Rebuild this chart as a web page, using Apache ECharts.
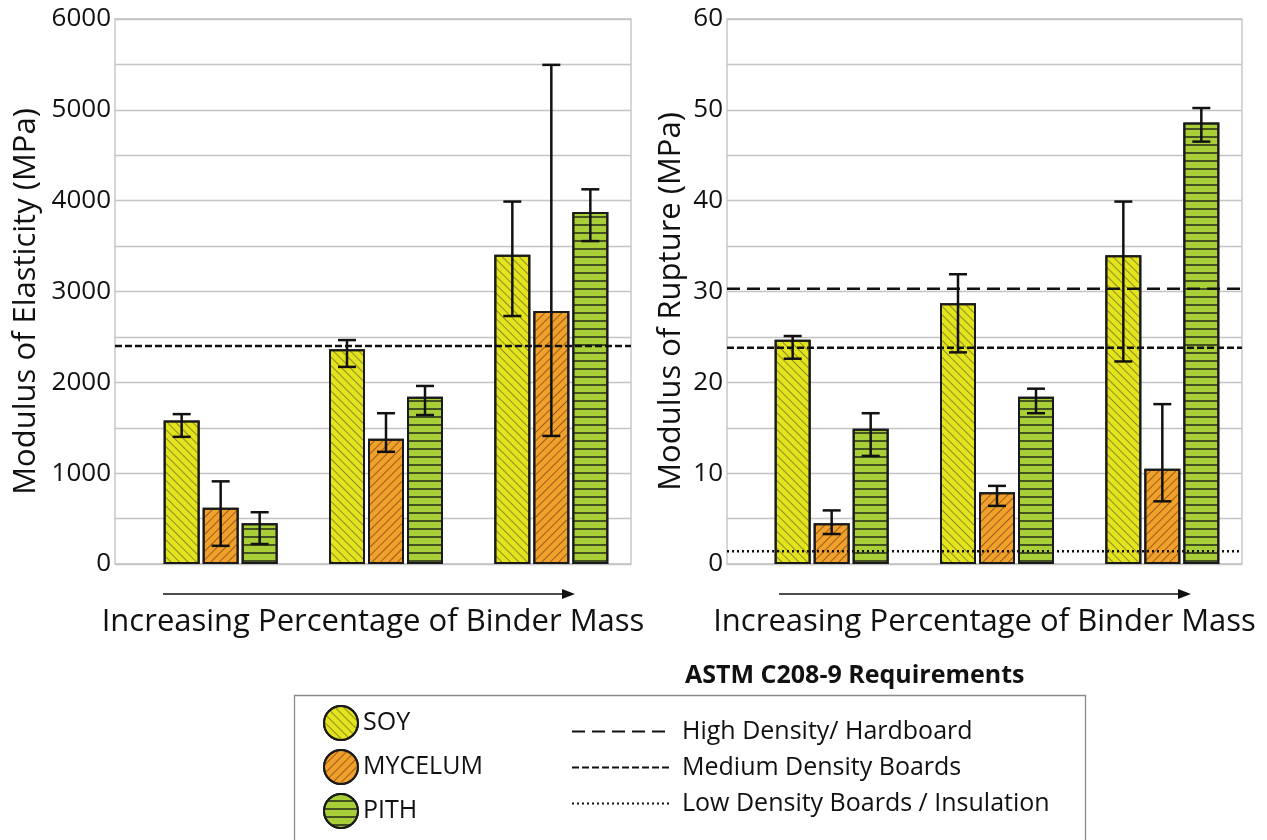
<!DOCTYPE html>
<html>
<head>
<meta charset="utf-8">
<script src="https://cdn.jsdelivr.net/npm/echarts@6/dist/echarts.min.js"></script>
<style>
  html, body { margin: 0; padding: 0; background: #fff; }
  #chart { width: 1267px; height: 840px; }
</style>
</head>
<body>
<div id="chart"></div>
<script>
// groups = increasing binder mass (unlabelled in the figure)
const groups = ['1', '2', '3']

// Modulus of Elasticity (MPa)
const moeSoy = [1580, 2365, 3405]
const moeMyc = [620, 1380, 2785]
const moePith = [450, 1840, 3875]
const moeSoyErr = [[1400, 1650], [2170, 2465], [2730, 3990]]
const moeMycErr = [[200, 910], [1235, 1660], [1410, 5495]]
const moePithErr = [[220, 570], [1640, 1960], [3555, 4125]]

// Modulus of Rupture (MPa)
const morSoy = [24.7, 28.7, 34.0]
const morMyc = [4.5, 7.9, 10.5]
const morPith = [14.9, 18.4, 48.6]
const morSoyErr = [[22.6, 25.1], [23.3, 31.9], [22.3, 39.9]]
const morMycErr = [[3.3, 5.9], [6.4, 8.6], [6.9, 17.6]]
const morPithErr = [[11.9, 16.6], [16.6, 19.3], [46.5, 50.2]]

// ASTM C208-9 requirement levels
const moeMedium = 2400
const morHigh = 30.3
const morMedium = 23.8
const morLow = 1.4

const materials = ['SOY', 'MYCELUM', 'PITH']
const requirements = ['High Density/ Hardboard', 'Medium Density Boards', 'Low Density Boards / Insulation']

const FONT = 'Open Sans'
const BAR_W = 36
const BAR_GAP = 3

const styles = {
  SOY: {
    color: '#e3e31e',
    decal: { symbol: 'rect', symbolSize: 1, color: 'rgba(70,70,40,0.55)', dashArrayX: [1, 0], dashArrayY: [1, 5], rotation: Math.PI / 4 },
  },
  MYCELUM: {
    color: '#f1a02c',
    decal: { symbol: 'rect', symbolSize: 1, color: 'rgba(90,50,10,0.6)', dashArrayX: [1, 0], dashArrayY: [1, 5], rotation: -Math.PI / 4 },
  },
  PITH: {
    color: '#a8cf38',
    decal: { symbol: 'rect', symbolSize: 1, color: 'rgba(50,60,30,0.85)', dashArrayX: [1, 0], dashArrayY: [2, 6], rotation: 0 },
  },
}

const pair = v => [v, v]

function barSeries(name, data, axis) {
  return {
    name, type: 'bar', data,
    xAxisIndex: axis, yAxisIndex: axis,
    barWidth: BAR_W, barGap: (BAR_GAP / BAR_W * 100) + '%',
    itemStyle: { color: styles[name].color, decal: styles[name].decal, borderColor: '#1a1a1a', borderWidth: 2 },
    z: 3,
  }
}

function errSeries(name, idx, data, axis) {
  const offset = (idx - 1) * (BAR_W + BAR_GAP)
  return {
    name: name + ' err', type: 'custom',
    xAxisIndex: axis, yAxisIndex: axis, z: 6,
    data: data.map((d, i) => [i, d[0], d[1]]),
    renderItem: (params, api) => {
      const lo = api.coord([api.value(0), api.value(1)])
      const hi = api.coord([api.value(0), api.value(2)])
      const x = lo[0] + offset
      const cap = 9
      const style = { stroke: '#111', lineWidth: 2.5 }
      return {
        type: 'group',
        children: [
          { type: 'line', shape: { x1: x, y1: lo[1], x2: x, y2: hi[1] }, style },
          { type: 'line', shape: { x1: x - cap, y1: lo[1], x2: x + cap, y2: lo[1] }, style },
          { type: 'line', shape: { x1: x - cap, y1: hi[1], x2: x + cap, y2: hi[1] }, style },
        ],
      }
    },
  }
}

function reqSeries(name, value, axis, type, width) {
  return {
    name, type: 'line', data: pair(value),
    xAxisIndex: axis, yAxisIndex: axis,
    symbol: 'none', silent: true, z: 8,
    lineStyle: { color: '#111', width: width, type },
    itemStyle: { color: '#111' },
  }
}

const frameX = (name) => ({
  type: 'category', data: ['', ''], boundaryGap: false,
  axisLine: { show: false }, axisTick: { show: false }, axisLabel: { show: false },
  name, nameLocation: 'middle', nameGap: 43,
  nameTextStyle: { fontFamily: FONT, fontSize: 31, color: '#111' },
})

const frameY = (max, step, name, gap, pad) => ({
  type: 'value', min: 0, max, interval: step / 2,
  axisLine: { show: false }, axisTick: { show: false },
  axisLabel: {
    fontFamily: FONT, fontSize: 26, color: '#111', margin: 4,
    formatter: v => (v % step === 0 ? String(v) : ''),
  },
  splitLine: { lineStyle: { color: '#c4c4c4', width: 1.3 } },
  name, nameLocation: 'middle', nameGap: gap,
  nameTextStyle: { fontFamily: FONT, fontSize: 31, color: '#111', padding: pad },
})

const hiddenX = { type: 'category', data: groups, show: false }
const hiddenY = (max) => ({ type: 'value', min: 0, max, show: false, splitLine: { show: false } })

const chart = echarts.init(document.getElementById('chart'))

chart.setOption({
  animation: false,
  backgroundColor: '#fff',
  textStyle: { fontFamily: FONT },
  title: {
    text: 'ASTM C208-9 Requirements',
    left: 680, top: 658,
    textStyle: { fontFamily: FONT, fontSize: 25, fontWeight: 'bold', color: '#111' },
  },
  grid: [
    { left: 115, top: 19, width: 516, height: 545, show: true, borderColor: '#c0c0c0', borderWidth: 1.3 },
    { left: 138, top: 19, width: 496, height: 545 },
    { left: 727, top: 19, width: 515, height: 545, show: true, borderColor: '#c0c0c0', borderWidth: 1.3 },
    { left: 749, top: 19, width: 496, height: 545 },
  ],
  xAxis: [
    { ...frameX('Increasing Percentage of Binder Mass'), gridIndex: 0 },
    { ...hiddenX, gridIndex: 1 },
    { ...frameX('Increasing Percentage of Binder Mass'), gridIndex: 2 },
    { ...hiddenX, gridIndex: 3 },
  ],
  yAxis: [
    { ...frameY(6000, 1000, 'Modulus of Elasticity (MPa)', 73, [0, 20, 0, 0]), gridIndex: 0 },
    { ...hiddenY(6000), gridIndex: 1 },
    { ...frameY(60, 10, 'Modulus of Rupture (MPa)', 40, [0, 20, 0, 0]), gridIndex: 2 },
    { ...hiddenY(60), gridIndex: 3 },
  ],
  legend: [
    {
      data: materials, orient: 'vertical', left: 318, top: 700,
      icon: 'circle', itemWidth: 34, itemHeight: 38, itemGap: 8,
      textStyle: { fontFamily: FONT, fontSize: 25, color: '#111', padding: [0, 0, 0, 0] },
      selectedMode: false,
    },
    {
      data: requirements, orient: 'vertical', left: 566, top: 714,
      itemWidth: 99, itemHeight: 22, itemGap: 11,
      itemStyle: { opacity: 0 },
      textStyle: { fontFamily: FONT, fontSize: 25, color: '#111', padding: [0, 0, 0, 6] },
      selectedMode: false,
    },
  ],
  graphic: [
    { type: 'rect', left: 292, top: 693, shape: { width: 791, height: 170 }, style: { fill: 'none', stroke: '#8a8a8a', lineWidth: 1.3 }, silent: true },
    { type: 'line', shape: { x1: 163, y1: 594, x2: 566, y2: 594 }, style: { stroke: '#111', lineWidth: 1.3 } },
    { type: 'polygon', shape: { points: [[575, 594], [562, 589], [562, 599]] }, style: { fill: '#111' } },
    { type: 'line', shape: { x1: 779, y1: 594, x2: 1182, y2: 594 }, style: { stroke: '#111', lineWidth: 1.3 } },
    { type: 'polygon', shape: { points: [[1191, 594], [1178, 589], [1178, 599]] }, style: { fill: '#111' } },
  ],
  series: [
    // left: modulus of elasticity
    barSeries('SOY', moeSoy, 1),
    barSeries('MYCELUM', moeMyc, 1),
    barSeries('PITH', moePith, 1),
    errSeries('SOY', 0, moeSoyErr, 1),
    errSeries('MYCELUM', 1, moeMycErr, 1),
    errSeries('PITH', 2, moePithErr, 1),
    // right: modulus of rupture
    barSeries('SOY', morSoy, 3),
    barSeries('MYCELUM', morMyc, 3),
    barSeries('PITH', morPith, 3),
    errSeries('SOY', 0, morSoyErr, 3),
    errSeries('MYCELUM', 1, morMycErr, 3),
    errSeries('PITH', 2, morPithErr, 3),
    // requirement lines
    reqSeries('High Density/ Hardboard', morHigh, 2, [13, 7], 2.4),
    reqSeries('Medium Density Boards', moeMedium, 0, [7, 3], 2.4),
    reqSeries('Medium Density Boards', morMedium, 2, [7, 3], 2.4),
    reqSeries('Low Density Boards / Insulation', morLow, 2, [2, 3], 2.4),
  ],
})

window.addEventListener('resize', () => chart.resize())
</script>
</body>
</html>
